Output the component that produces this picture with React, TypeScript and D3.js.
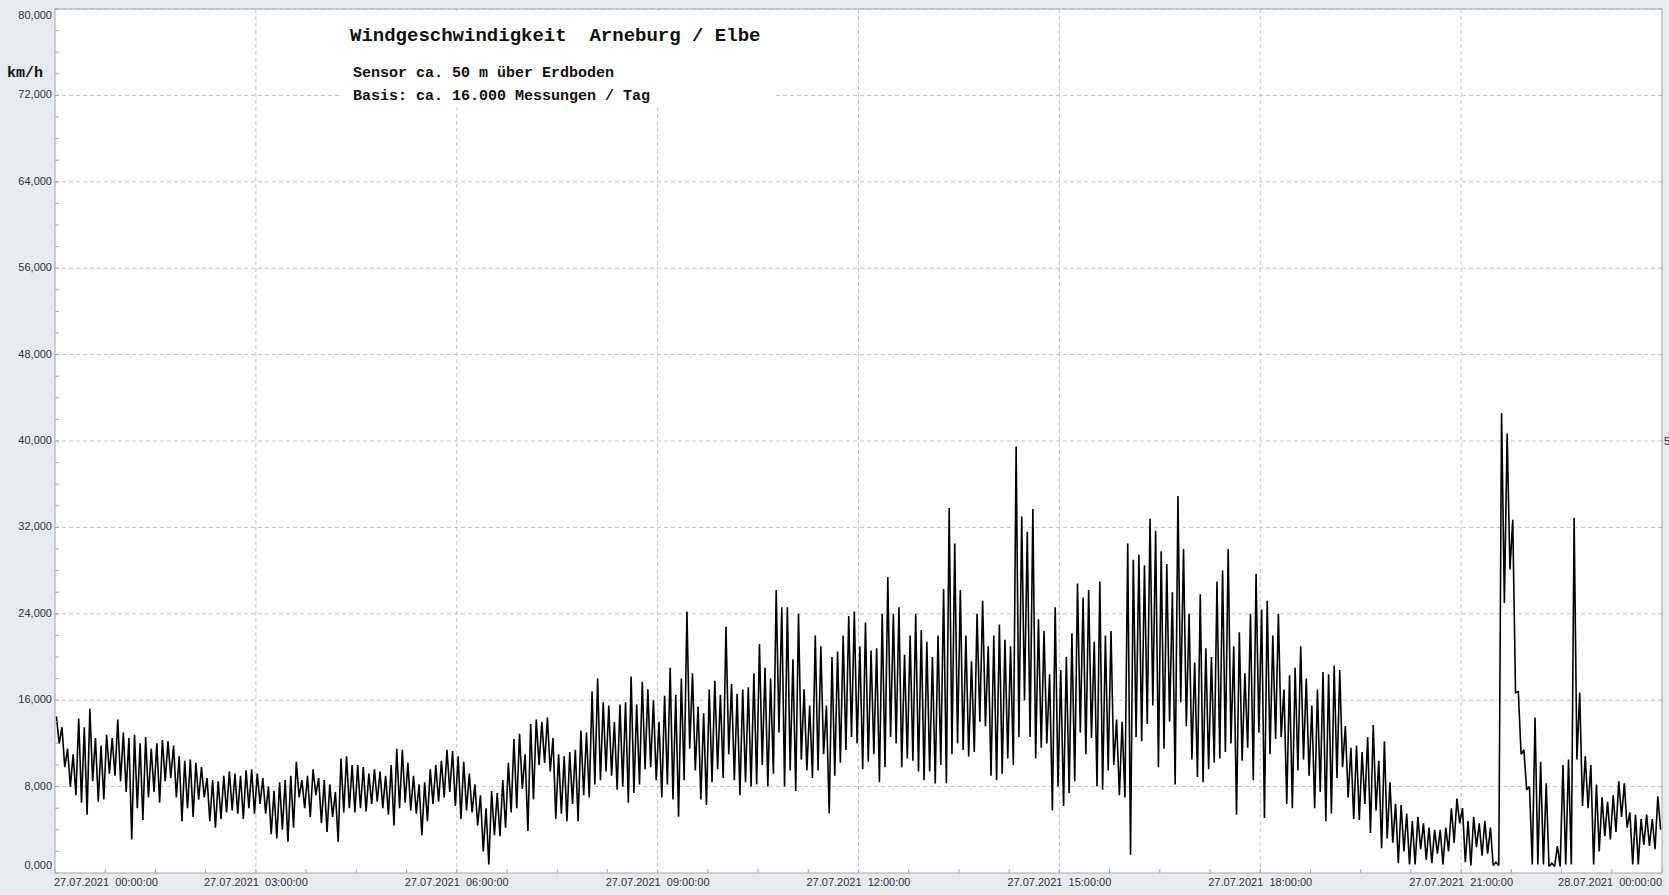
import React from "react";
import * as d3 from "d3";

// Wind speed in km/h, one pair per 5-minute bin (12 bins per row = 1 hour)
// hi = highest reading in the bin, lo = lowest reading in the bin
const hi: number[] = [
	14.5, 13.5, 11.5, 11.0, 14.3, 13.5, 15.2, 12.5, 11.8, 12.8, 12.5, 14.2, // 00h
	13.0, 12.5, 12.8, 12.0, 12.6, 11.5, 12.0, 12.3, 12.2, 11.8, 10.8, 10.4, // 01h
	10.5, 10.2, 9.8, 8.8, 8.6, 8.5, 9.0, 9.4, 9.2, 9.0, 9.5, 9.6, // 02h
	9.2, 8.8, 8.0, 7.6, 8.4, 8.6, 9.0, 10.3, 8.6, 9.0, 9.6, 8.8, // 03h
	8.6, 8.2, 7.5, 10.6, 10.8, 10.0, 10.0, 9.8, 9.2, 9.6, 9.4, 9.0, // 04h
	10.0, 11.5, 11.4, 10.2, 9.0, 8.2, 8.4, 9.6, 10.0, 10.4, 11.4, 11.3, // 05h
	10.8, 10.3, 9.2, 8.2, 7.2, 6.0, 7.6, 7.4, 8.6, 10.2, 12.4, 12.9, // 06h
	11.0, 13.8, 14.2, 14.0, 14.4, 12.5, 11.0, 10.8, 11.2, 11.4, 13.2, 13.0, // 07h
	16.8, 18.0, 15.8, 15.5, 14.0, 15.6, 15.8, 18.2, 15.6, 17.7, 17.0, 16.0, // 08h
	14.0, 16.4, 19.0, 16.5, 18.0, 24.2, 18.5, 15.4, 14.8, 17.0, 17.8, 16.5, // 09h
	22.8, 17.5, 16.6, 17.0, 17.2, 18.5, 21.2, 19.0, 18.0, 26.2, 24.6, 24.6, // 10h
	19.8, 24.0, 17.0, 15.5, 22.0, 21.0, 15.5, 20.0, 20.5, 22.0, 23.8, 24.2, // 11h
	21.0, 23.2, 20.6, 20.8, 24.0, 27.4, 24.0, 24.6, 20.2, 22.0, 24.0, 22.5, // 12h
	21.4, 20.0, 22.0, 26.3, 33.8, 30.5, 26.2, 22.0, 19.6, 24.0, 25.2, 21.0, // 13h
	22.0, 23.0, 21.6, 21.0, 39.5, 33.0, 31.6, 33.7, 23.5, 22.4, 18.4, 24.6, // 14h
	18.8, 20.0, 22.2, 26.8, 25.5, 26.2, 21.4, 27.0, 22.0, 22.4, 14.2, 14.0, // 15h
	30.5, 29.0, 29.5, 28.5, 32.8, 31.7, 29.8, 28.6, 26.0, 34.9, 30.0, 24.0, // 16h
	19.5, 25.8, 20.8, 20.0, 27.0, 28.0, 30.0, 21.0, 22.3, 18.5, 24.0, 27.7, // 17h
	24.4, 25.2, 22.0, 24.0, 17.0, 18.3, 19.0, 21.0, 18.0, 15.5, 17.0, 18.6, // 18h
	18.4, 19.2, 18.8, 13.6, 11.6, 11.8, 11.2, 12.6, 13.7, 10.4, 12.2, 8.4, // 19h
	6.4, 6.3, 5.5, 4.8, 5.2, 4.6, 4.2, 4.0, 4.0, 4.2, 6.0, 6.9, // 20h
	6.0, 4.8, 5.2, 4.6, 4.8, 4.2, 1.0, 42.6, 40.7, 32.7, 16.8, 11.4, // 21h
	8.0, 14.4, 10.3, 8.3, 0.9, 2.5, 10.0, 10.5, 32.9, 16.7, 10.8, 10.0, // 22h
	8.2, 7.0, 6.6, 7.2, 8.5, 8.3, 5.6, 5.4, 5.0, 5.4, 5.0, 7.1, // 23h
];

const lo: number[] = [
	12.0, 9.8, 8.0, 7.2, 6.5, 5.4, 8.5, 6.6, 6.8, 9.2, 9.0, 8.5, // 00h
	7.5, 3.1, 6.0, 4.9, 7.0, 7.5, 6.5, 8.5, 8.8, 7.0, 4.8, 6.0, // 01h
	5.2, 6.8, 7.0, 4.8, 4.2, 5.0, 5.6, 5.8, 5.5, 5.0, 6.0, 5.5, // 02h
	6.4, 5.5, 3.6, 3.2, 4.0, 2.9, 4.2, 7.0, 6.0, 5.2, 7.2, 4.6, // 03h
	3.8, 5.2, 2.9, 5.6, 6.0, 5.6, 6.0, 5.7, 6.4, 6.6, 6.0, 5.4, // 04h
	4.4, 6.0, 6.5, 5.8, 5.5, 3.5, 4.8, 6.4, 6.6, 7.0, 7.5, 6.2, // 05h
	5.0, 5.8, 5.6, 4.4, 2.0, 0.8, 3.5, 3.4, 4.2, 5.6, 6.0, 7.8, // 06h
	3.9, 6.8, 10.0, 10.2, 9.4, 5.0, 5.5, 4.8, 6.4, 4.8, 7.2, 7.0, // 07h
	8.2, 8.6, 9.4, 9.0, 7.7, 8.0, 6.5, 7.4, 8.2, 9.6, 9.8, 8.6, // 08h
	7.0, 8.2, 6.8, 5.2, 8.6, 11.5, 9.5, 6.8, 6.3, 8.4, 9.6, 8.8, // 09h
	11.0, 8.6, 7.2, 8.4, 8.0, 8.2, 10.0, 8.0, 9.2, 13.0, 8.0, 9.5, // 10h
	7.6, 10.5, 9.5, 8.8, 9.5, 11.0, 5.5, 9.0, 10.2, 11.4, 12.6, 12.0, // 11h
	9.6, 10.3, 11.0, 8.4, 9.8, 12.6, 12.0, 9.8, 10.6, 10.4, 9.4, 8.6, // 12h
	9.4, 8.3, 10.0, 8.3, 11.0, 12.0, 11.4, 10.8, 11.2, 14.0, 13.6, 9.0, // 13h
	8.6, 9.2, 10.6, 10.0, 12.6, 16.0, 12.6, 10.6, 11.6, 12.0, 5.8, 8.0, // 14h
	6.2, 7.4, 8.5, 13.0, 11.0, 12.5, 8.0, 7.7, 9.5, 10.0, 7.2, 7.0, // 15h
	1.7, 12.6, 12.2, 13.8, 15.5, 9.8, 11.5, 14.0, 8.2, 15.8, 13.6, 10.5, // 16h
	8.9, 8.4, 9.6, 10.2, 10.6, 11.2, 12.0, 5.4, 10.4, 11.6, 8.6, 13.0, // 17h
	5.1, 11.0, 12.4, 12.6, 6.4, 6.0, 9.5, 10.5, 9.0, 6.0, 7.5, 4.8, // 18h
	5.5, 8.8, 9.8, 7.0, 5.0, 4.9, 6.4, 3.7, 5.8, 2.3, 3.2, 2.8, // 19h
	0.9, 2.0, 0.8, 0.8, 2.2, 1.2, 0.9, 1.8, 0.8, 2.0, 2.8, 4.6, // 20h
	1.0, 0.7, 2.4, 1.6, 1.8, 0.7, 0.7, 25.0, 28.1, 16.7, 11.0, 7.7, // 21h
	0.8, 0.8, 0.8, 0.6, 0.6, 0.6, 0.8, 0.8, 10.5, 6.2, 6.0, 0.8, // 22h
	2.0, 3.4, 3.1, 3.8, 5.2, 4.2, 0.8, 0.8, 2.6, 2.5, 2.2, 4.0, // 23h
];

const yTickValues = [0, 8, 16, 24, 32, 40, 48, 56, 64, 72, 80];
const titleLines = ["Sensor ca. 50 m über Erdboden", "Basis: ca. 16.000 Messungen / Tag"];

const W = 1669;
const H = 895;
const plot = { left: 55, right: 1662, top: 9, bottom: 873 };

export default function App() {
	const start = new Date(2021, 6, 27, 0, 0, 0);
	const end = new Date(2021, 6, 28, 0, 0, 0);

	const x = d3.scaleTime().domain([start, end]).range([plot.left, plot.right]);
	const y = d3.scaleLinear().domain([0, 80]).range([plot.bottom, plot.top]);

	// each bin: high reading then low reading
	const points = hi.flatMap((h, i) => {
		const t0 = d3.timeMinute.offset(start, i * 5);
		return [
			{ t: new Date(+t0 + 75 * 1000), v: h },
			{ t: new Date(+t0 + 225 * 1000), v: lo[i] },
		];
	});

	const line = d3
		.line<{ t: Date; v: number }>()
		.x((d) => x(d.t))
		.y((d) => y(d.v));

	const xTicks = x.ticks(d3.timeHour.every(3)!);
	const xMinor = d3.range(0, 33).map((k) => d3.timeMinute.offset(start, k * 45));
	const yMinor = d3.range(0, 81, 2);
	const fmtTime = d3.timeFormat("%d.%m.%Y  %H:%M:%S");
	const fmtY = (v: number) => v.toFixed(3).replace(".", ",");

	const grid = "#c4c4c4";
	const axisCol = "#a2a6ae";
	const textCol = "#333";

	return (
		<svg width={W} height={H} style={{ position: "absolute", left: 0, top: 0, background: "#e8eaf1" }}>
			<rect x={plot.left} y={plot.top} width={plot.right - plot.left} height={plot.bottom - plot.top} fill="#fff" />

			{/* grid */}
			{yTickValues.slice(1).map((v) => (
				<line key={"gy" + v} x1={plot.left} x2={plot.right} y1={y(v)} y2={y(v)} stroke={grid} strokeDasharray="4,3" />
			))}
			{xTicks.slice(1, -1).map((t) => (
				<line key={"gx" + +t} x1={x(t)} x2={x(t)} y1={plot.top} y2={plot.bottom} stroke={grid} strokeDasharray="4,3" />
			))}

			{/* title box */}
			<rect x={340} y={11} width={435} height={97} fill="#fff" />
			<text x={350} y={41} fontFamily="'Liberation Mono', monospace" fontWeight="bold" fontSize={19} fill="#111" style={{ whiteSpace: "pre" }}>
				{"Windgeschwindigkeit  Arneburg / Elbe"}
			</text>
			{titleLines.map((s, i) => (
				<text key={s} x={353} y={77 + i * 23} fontFamily="'Liberation Mono', monospace" fontWeight="bold" fontSize={15} fill="#111" style={{ whiteSpace: "pre" }}>
					{s}
				</text>
			))}

			{/* data */}
			<path d={line(points) ?? ""} fill="none" stroke="#000" strokeWidth={1.6} strokeLinejoin="miter" strokeMiterlimit={2} />

			{/* frame */}
			<rect x={plot.left} y={plot.top} width={plot.right - plot.left} height={plot.bottom - plot.top} fill="none" stroke={axisCol} />

			{/* minor ticks */}
			{yMinor.map((v) => (
				<line key={"ty" + v} x1={plot.left} x2={plot.left + 4} y1={y(v)} y2={y(v)} stroke={axisCol} />
			))}
			{xMinor.map((t) => (
				<line key={"tx" + +t} x1={x(t)} x2={x(t)} y1={plot.bottom} y2={plot.bottom - 4} stroke={axisCol} />
			))}

			{/* y labels */}
			{yTickValues.map((v) => (
				<text
					key={"ly" + v}
					x={plot.left - 3}
					y={Math.min(Math.max(y(v), 16), 866)}
					textAnchor="end"
					dominantBaseline="middle"
					fontFamily="'Liberation Sans', Arial, sans-serif"
					fontSize={11}
					fill={textCol}
				>
					{fmtY(v)}
				</text>
			))}

			{/* x labels */}
			{xTicks.map((t, i) => (
				<text
					key={"lx" + +t}
					x={i === 0 ? plot.left - 1 : i === xTicks.length - 1 ? plot.right : x(t)}
					y={886}
					textAnchor={i === 0 ? "start" : i === xTicks.length - 1 ? "end" : "middle"}
					fontFamily="'Liberation Sans', Arial, sans-serif"
					fontSize={11}
					fill={textCol}
					style={{ whiteSpace: "pre" }}
				>
					{fmtTime(t)}
				</text>
			))}

			<text x={7} y={77} fontFamily="'Liberation Mono', monospace" fontWeight="bold" fontSize={15} fill="#111">
				km/h
			</text>
			<text x={1664} y={442} dominantBaseline="middle" fontFamily="'Liberation Sans', Arial, sans-serif" fontSize={11} fill={textCol}>
				5
			</text>
		</svg>
	);
}
